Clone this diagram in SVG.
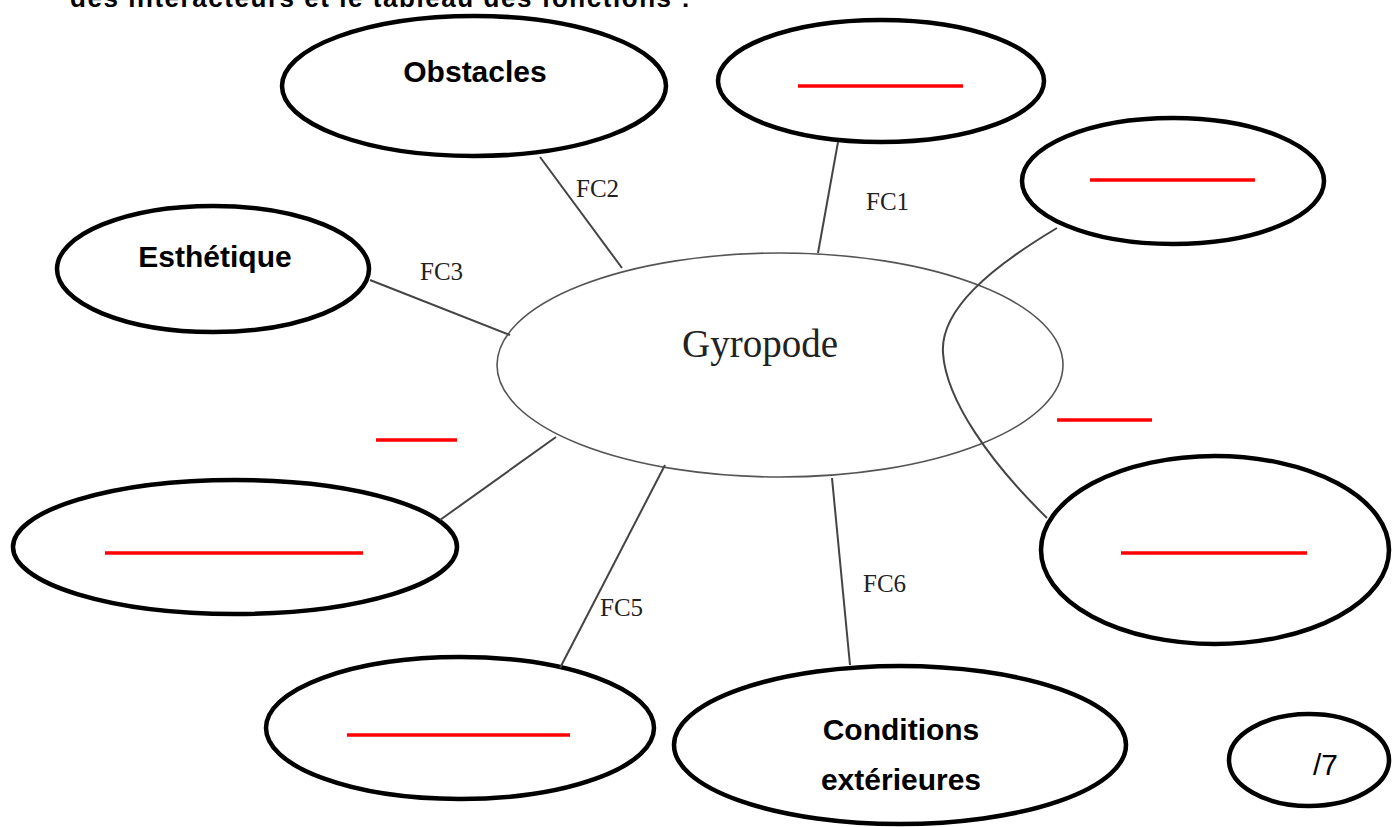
<svg xmlns="http://www.w3.org/2000/svg" width="1400" height="827" viewBox="0 0 1400 827">
<style>
.node{fill:#fff;stroke:#000;stroke-width:4.5}
.center{fill:#fff;stroke:#555;stroke-width:1.6}
.conn{fill:none;stroke:#444;stroke-width:2}
.lbl{font-family:"Liberation Sans",Arial,sans-serif;font-weight:bold;font-size:30px;fill:#000;text-anchor:middle}
.fc{font-family:"Liberation Serif","Times New Roman",serif;font-size:25px;fill:#222}
.blank{stroke:#f00;stroke-width:3.5}
</style>
<rect width="1400" height="827" fill="#fff"/>
<text x="70" y="7" font-family="Liberation Sans, Arial, sans-serif" font-weight="bold" font-size="26" textLength="620" fill="#000">des interacteurs et le tableau des fonctions :</text>
<g id="gyropode">
<ellipse class="center" cx="780" cy="365" rx="283" ry="112"/>
<text x="682" y="357" font-family="Liberation Serif, Times New Roman, serif" font-size="39" fill="#222">Gyropode</text>
</g>
<g id="obstacles">
<ellipse class="node" cx="474" cy="86" rx="192" ry="70"/>
<text class="lbl" x="475" y="82">Obstacles</text>
</g>
<g id="top-right-1">
<ellipse class="node" cx="881" cy="81" rx="163" ry="61"/>
<line class="blank" x1="798" y1="86" x2="963" y2="86"/>
</g>
<g id="top-right-2">
<ellipse class="node" cx="1173" cy="181" rx="151" ry="63"/>
<line class="blank" x1="1090" y1="180" x2="1255" y2="180"/>
</g>
<g id="esthetique">
<ellipse class="node" cx="213" cy="269" rx="156" ry="63"/>
<text class="lbl" x="215" y="267">Esthétique</text>
</g>
<g id="bottom-left">
<ellipse class="node" cx="235" cy="547" rx="222" ry="67"/>
<line class="blank" x1="105" y1="553" x2="363" y2="553"/>
</g>
<g id="bottom">
<ellipse class="node" cx="460" cy="728" rx="194" ry="71"/>
<line class="blank" x1="347" y1="735" x2="570" y2="735"/>
</g>
<g id="conditions">
<ellipse class="node" cx="900" cy="745" rx="226" ry="79"/>
<text class="lbl" x="901" y="740">Conditions</text>
<text class="lbl" x="901" y="790">extérieures</text>
</g>
<g id="bottom-right">
<ellipse class="node" cx="1215" cy="550" rx="174" ry="94"/>
<line class="blank" x1="1121" y1="553" x2="1307" y2="553"/>
</g>
<g id="score">
<ellipse class="node" cx="1309" cy="760" rx="80" ry="46"/>
<text x="1313" y="775" font-family="Liberation Sans, Arial, sans-serif" font-size="30" fill="#000">/7</text>
</g>
<g id="connectors">
<line class="conn" x1="540" y1="157" x2="622" y2="268"/>
<line class="conn" x1="838" y1="142" x2="818" y2="253"/>
<line class="conn" x1="370" y1="280" x2="510" y2="335"/>
<line class="conn" x1="556" y1="437" x2="440" y2="520"/>
<line class="conn" x1="665" y1="465" x2="560" y2="668"/>
<line class="conn" x1="832" y1="478" x2="850" y2="665"/>
<path class="conn" d="M1057,228 C990,268 940,310 943,353 C946,400 990,462 1047,518"/>
<text class="fc" x="576" y="197">FC2</text>
<text class="fc" x="866" y="210">FC1</text>
<text class="fc" x="420" y="280">FC3</text>
<text class="fc" x="600" y="616">FC5</text>
<text class="fc" x="863" y="592">FC6</text>
<line class="blank" x1="376" y1="440" x2="457" y2="440"/>
<line class="blank" x1="1057" y1="420" x2="1152" y2="420"/>
</g>
</svg>
